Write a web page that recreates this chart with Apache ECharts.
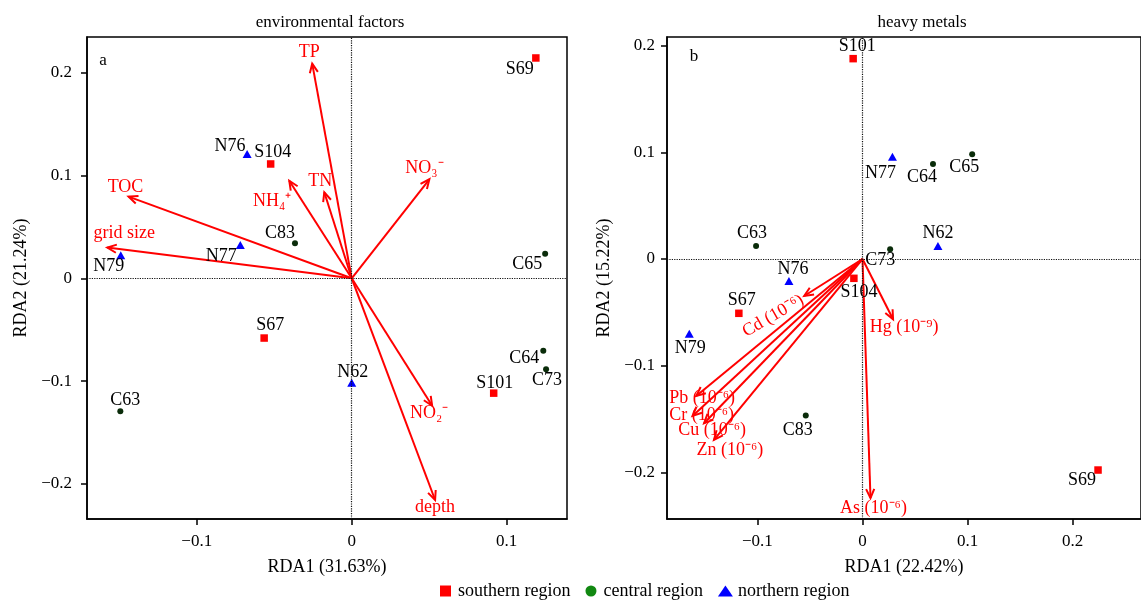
<!DOCTYPE html>
<html><head><meta charset="utf-8">
<script src="https://cdn.jsdelivr.net/npm/echarts@6/dist/echarts.min.js"></script>
<style>html,body{margin:0;padding:0;background:#fff}#c{width:1141px;height:601px}</style>
</head><body><div id="c"></div>
<script>
// ---------- panel a: environmental factors ----------
const southA = ['S69', 'S104', 'S67', 'S101'];
const southAX = [0.1188, -0.0523, -0.0565, 0.0916];
const southAY = [0.2143, 0.1112, -0.0581, -0.1117];
const centralA = ['C83', 'C65', 'C64', 'C73', 'C63'];
const centralAX = [-0.0366, 0.1248, 0.1236, 0.1254, -0.1493];
const centralAY = [0.0340, 0.0240, -0.0704, -0.0885, -0.1292];
const northA = ['N76', 'N77', 'N79', 'N62'];
const northAX = [-0.0675, -0.0719, -0.1490, 0.0000];
const northAY = [0.1208, 0.0325, 0.0224, -0.1016];
const envNames = ['TP', 'TOC', 'grid size', 'NH₄⁺', 'TN', 'NO₃⁻', 'NO₂⁻', 'depth'];
const envX = [-0.0255, -0.1440, -0.1577, -0.0403, -0.0177, 0.0501, 0.0519, 0.0538];
const envY = [0.2088, 0.0795, 0.0299, 0.0949, 0.0837, 0.0963, -0.1240, -0.2156];
const ticksAX = [-0.1, 0, 0.1];
const ticksAY = [-0.2, -0.1, 0, 0.1, 0.2];

// ---------- panel b: heavy metals ----------
const southB = ['S101', 'S104', 'S67', 'S69'];
const southBX = [-0.0089, -0.0082, -0.1177, 0.2242];
const southBY = [0.1878, -0.0181, -0.0509, -0.1978];
const centralB = ['C64', 'C65', 'C63', 'C73', 'C83'];
const centralBX = [0.0671, 0.1044, -0.1013, 0.0263, -0.0540];
const centralBY = [0.0891, 0.0981, 0.0122, 0.0091, -0.1468];
const northB = ['N77', 'N62', 'N76', 'N79'];
const northBX = [0.0285, 0.0718, -0.0700, -0.1649];
const northBY = [0.0959, 0.0122, -0.0206, -0.0700];
const metalNames = ['Cd (10⁻⁶)', 'Hg (10⁻⁹)', 'Pb (10⁻⁶)', 'Cr (10⁻⁶)', 'Cu (10⁻⁶)', 'Zn (10⁻⁶)', 'As (10⁻⁶)'];
const metalX = [-0.0555, 0.0291, -0.1583, -0.1618, -0.1508, -0.1414, 0.0076];
const metalY = [-0.0347, -0.0565, -0.1284, -0.1471, -0.1540, -0.1696, -0.2241];
const ticksBX = [-0.1, 0, 0.1, 0.2];
const ticksBY = [-0.2, -0.1, 0, 0.1, 0.2];

// ---------- label placement (pixel offsets, style only) ----------
const offA = {S69:[-16,11], N76:[-17,-8], S104:[2,-12], C83:[-15,-10], N77:[-19,11], N79:[-12,11],
  C65:[-18,11], S67:[6,-13], N62:[1,-11], C63:[5,-11], C64:[-19,8], C73:[1,11], S101:[1,-10]};
const offB = {S101:[4,-12], N77:[-12,17], C64:[-11,13], C65:[-8,13], C63:[-4,-13], C73:[-10,11],
  N62:[0,-13], N76:[4,-12], S104:[5,14], S67:[3,-13], N79:[1,15], C83:[-8,15], S69:[-16,10]};
const arrowOffA = {'TP':[-3,-11], 'TOC':[-3,-9], 'grid size':[17,-14], 'NH₄⁺':[-17,21], 'TN':[-4,-11],
  'NO₃⁻':[-5,-11], 'NO₂⁻':[-3,7], 'depth':[0,7]};
const arrowOffB = {'Cd (10⁻⁶)':[-31,20,30], 'Hg (10⁻⁹)':[11,8], 'Pb (10⁻⁶)':[6,2], 'Cr (10⁻⁶)':[9,-1],
  'Cu (10⁻⁶)':[8,7], 'Zn (10⁻⁶)':[16,10], 'As (10⁻⁶)':[3,10]};

const FONT = "'Liberation Serif','Times New Roman',serif";
const RED = '#ff0000', DARK = '#0a2c0a', BLUE = '#0000ff';

function fmt(v) {
  if (Math.abs(v) < 1e-9) return '0';
  return (v < 0 ? '\u2212' : '') + String(+Math.abs(v).toFixed(1));
}

function scatter(name, names, xs, ys, gi, symbol, size, color, offs, withZero) {
  const s = {
    type: 'scatter', name, xAxisIndex: gi, yAxisIndex: gi, symbol, symbolSize: size,
    itemStyle: {color, opacity: 1}, z: 4, emphasis: {disabled: true},
    label: {show: true, position: 'inside', formatter: '{b}', color: '#000', opacity: 1, fontFamily: FONT, fontSize: 18},
    data: names.map((n, i) => ({name: n, value: [xs[i], ys[i]], label: {offset: offs[n]}}))
  };
  if (withZero) {
    s.markLine = {silent: true, symbol: 'none', label: {show: false}, animation: false,
      lineStyle: {type: 'dotted', color: '#111', width: 1.2, opacity: 1},
      data: [{xAxis: 0}, {yAxis: 0}]};
  }
  return s;
}

function arrows(names, xs, ys, gi, offs) {
  return {
    type: 'custom', xAxisIndex: gi, yAxisIndex: gi, z: 3, silent: true,
    data: names.map((n, i) => [xs[i], ys[i], i]),
    renderItem(params, api) {
      const n = names[api.value(2)];
      const p0 = api.coord([0, 0]);
      const p1 = api.coord([api.value(0), api.value(1)]);
      const a = Math.atan2(p1[1] - p0[1], p1[0] - p0[0]);
      const L = 10, w = 0.42;
      const h1 = [p1[0] - L * Math.cos(a - w), p1[1] - L * Math.sin(a - w)];
      const h2 = [p1[0] - L * Math.cos(a + w), p1[1] - L * Math.sin(a + w)];
      const o = offs[n];
      return {type: 'group', children: [
        {type: 'line', shape: {x1: p0[0], y1: p0[1], x2: p1[0], y2: p1[1]}, style: {stroke: RED, lineWidth: 2}},
        {type: 'polyline', shape: {points: [h1, p1, h2]}, style: {stroke: RED, lineWidth: 2, fill: null}},
        {type: 'text', x: p1[0] + o[0], y: p1[1] + o[1], rotation: (o[2] || 0) * Math.PI / 180,
          style: {text: n, fill: RED, font: '18px ' + FONT, align: 'center', verticalAlign: 'middle'}}
      ]};
    }
  };
}

function xAxis(gi, min, max, name, ticks) {
  return {gridIndex: gi, type: 'value', min, max, name, nameLocation: 'middle', nameGap: 39,
    nameTextStyle: {fontFamily: FONT, fontSize: 18, color: '#000'},
    axisLine: {show: true, onZero: false, lineStyle: {color: '#000', width: 1.5}},
    axisTick: {show: true, length: 6, customValues: ticks, lineStyle: {color: '#000', width: 1.5}},
    axisLabel: {customValues: ticks, formatter: fmt, margin: 14, color: '#000', fontFamily: FONT, fontSize: 17},
    splitLine: {show: false}};
}
function yAxis(gi, min, max, name, ticks, gap, margin) {
  return {gridIndex: gi, type: 'value', min, max, name, nameLocation: 'middle', nameGap: gap,
    nameTextStyle: {fontFamily: FONT, fontSize: 18, color: '#000'},
    axisLine: {show: true, onZero: false, lineStyle: {color: '#000', width: 1.5}},
    axisTick: {show: true, length: 6, customValues: ticks, lineStyle: {color: '#000', width: 1.5}},
    axisLabel: {customValues: ticks, formatter: fmt, margin, color: '#000', fontFamily: FONT, fontSize: 17},
    splitLine: {show: false}};
}

const chart = echarts.init(document.getElementById('c'), null, {renderer: 'canvas'});
chart.setOption({
  animation: false,
  backgroundColor: '#fff',
  grid: [
    {left: 87, top: 37, width: 480, height: 482, show: true, borderColor: '#000', borderWidth: 1.5},
    {left: 667, top: 37, width: 508, height: 482, show: true, borderColor: '#000', borderWidth: 1.5}
  ],
  xAxis: [
    xAxis(0, -0.1708, 0.1389, 'RDA1 (31.63%)', ticksAX),
    xAxis(1, -0.1861, 0.2651, 'RDA1 (22.42%)', ticksBX)
  ],
  yAxis: [
    yAxis(0, -0.2341, 0.2347, 'RDA2 (21.24%)', ticksAY, 57, 15),
    yAxis(1, -0.2437, 0.2081, 'RDA2 (15.22%)', ticksBY, 54, 12)
  ],
  legend: {
    left: 440, top: 582, itemWidth: 15, itemHeight: 11, itemGap: 15, selectedMode: false, padding: 0,
    textStyle: {fontFamily: FONT, fontSize: 18, color: '#000'},
    data: [
      {name: 'southern region', icon: 'path://M0,0h10v10h-10z', itemStyle: {color: RED, opacity: 1}},
      {name: 'central region', icon: 'circle', itemStyle: {color: '#118811', opacity: 1}},
      {name: 'northern region', icon: 'triangle', itemStyle: {color: BLUE, opacity: 1}}
    ]
  },
  graphic: [
    {type: 'text', x: 330, y: 23, style: {text: 'environmental factors', font: '17px ' + FONT, fill: '#000', align: 'center', verticalAlign: 'middle'}},
    {type: 'text', x: 922, y: 23, style: {text: 'heavy metals', font: '17px ' + FONT, fill: '#000', align: 'center', verticalAlign: 'middle'}},
    {type: 'text', x: 103, y: 61, style: {text: 'a', font: '17px ' + FONT, fill: '#000', align: 'center', verticalAlign: 'middle'}},
    {type: 'text', x: 694, y: 57, style: {text: 'b', font: '17px ' + FONT, fill: '#000', align: 'center', verticalAlign: 'middle'}}
  ],
  series: [
    arrows(envNames, envX, envY, 0, arrowOffA),
    scatter('southern region', southA, southAX, southAY, 0, 'rect', 7.5, RED, offA, true),
    scatter('central region', centralA, centralAX, centralAY, 0, 'circle', 6, DARK, offA, false),
    scatter('northern region', northA, northAX, northAY, 0, 'triangle', [9, 8], BLUE, offA, false),
    arrows(metalNames, metalX, metalY, 1, arrowOffB),
    scatter('southern region', southB, southBX, southBY, 1, 'rect', 7.5, RED, offB, true),
    scatter('central region', centralB, centralBX, centralBY, 1, 'circle', 6, DARK, offB, false),
    scatter('northern region', northB, northBX, northBY, 1, 'triangle', [9, 8], BLUE, offB, false)
  ]
});
</script></body></html>
